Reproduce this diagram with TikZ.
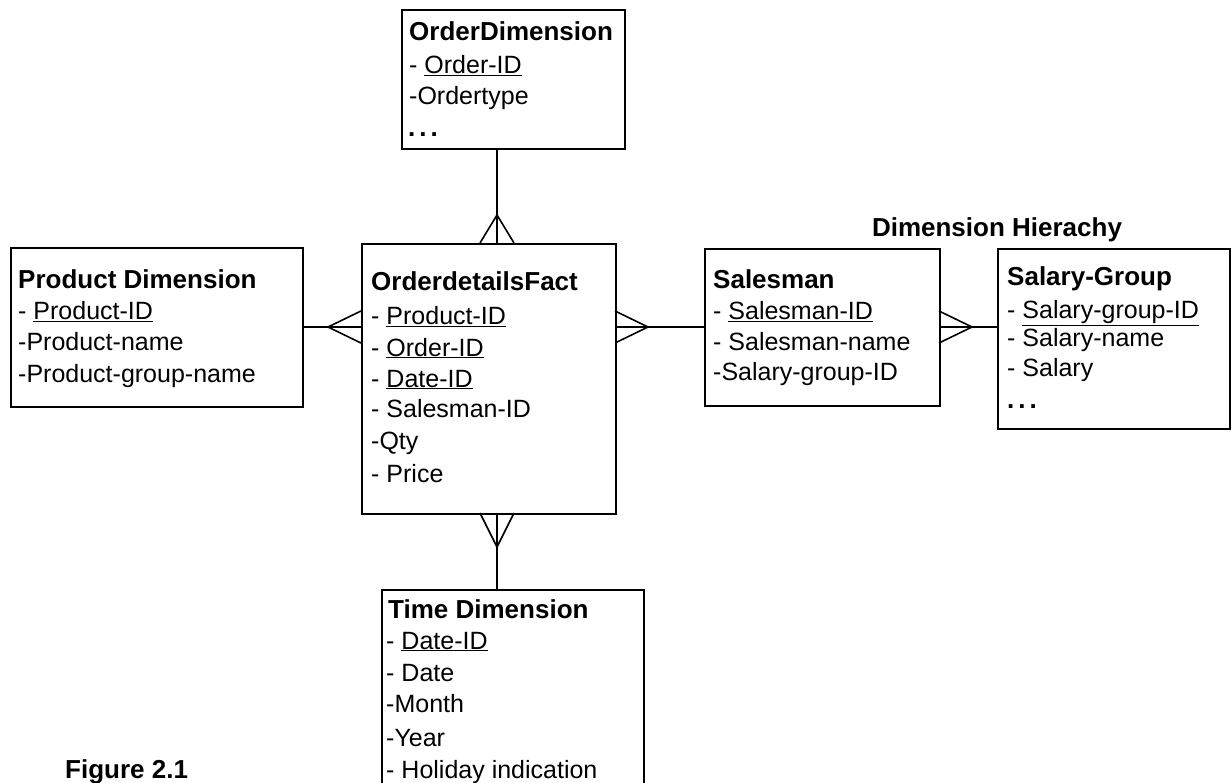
\documentclass[tikz,border=0pt]{standalone}
\usepackage{fontspec}
\setmainfont{Liberation Sans}
\begin{document}
\begin{tikzpicture}[x=1pt,y=-1pt,
  box/.style={draw, line width=1.6pt, inner sep=0pt, anchor=north west},
  conn/.style={line width=1.6pt},
  txt/.style={anchor=base west, inner sep=0pt, font=\fontsize{25}{30}\selectfont},
  ttl/.style={anchor=base west, inner sep=0pt, font=\fontsize{26}{30}\selectfont\bfseries},
  dots/.style={anchor=base west, inner sep=0pt, font=\fontsize{26}{30}\selectfont\bfseries}]
\clip (0,0) rectangle (1231,783);
\fill[white] (0,0) rectangle (1231,783);
% boxes
\node[box, minimum width=223pt, minimum height=139pt] (od) at (401,9) {};
\node[box, minimum width=292pt, minimum height=159pt] (prod) at (10,247) {};
\node[box, minimum width=254pt, minimum height=270pt] (fact) at (361,243) {};
\node[box, minimum width=235pt, minimum height=157pt] (sm) at (704,248) {};
\node[box, minimum width=232pt, minimum height=180pt] (sg) at (997,248) {};
\node[box, minimum width=262pt, minimum height=230pt] (time) at (381,589) {};
% OrderDimension text
\node[ttl] (odT) at (409,41) {OrderDimension};
\node[txt] (od1) at (409,74) {- \underline{Order-ID}};
\node[txt] (od2) at (409,105) {-Ordertype};
\node[dots] (od3) at (408,137) {.\kern4pt.\kern4pt.};
% Product text
\node[ttl] (prodT) at (18,289) {Product Dimension};
\node[txt] (prod1) at (18,320) {- \underline{Product-ID}};
\node[txt] (prod2) at (18,351) {-Product-name};
\node[txt] (prod3) at (18,382) {-Product-group-name};
% Fact text
\node[ttl] (factT) at (371,291) {OrderdetailsFact};
\node[txt] (fact1) at (371,325) {- \underline{Product-ID}};
\node[txt] (fact2) at (371,356) {- \underline{Order-ID}};
\node[txt] (fact3) at (371,387) {- \underline{Date-ID}};
\node[txt] (fact4) at (371,417) {- Salesman-ID};
\node[txt] (fact5) at (371,449) {-Qty};
\node[txt] (fact6) at (371,482) {- Price};
% Salesman text
\node[ttl] (smT) at (713,289) {Salesman};
\node[txt] (sm1) at (713,320) {- \underline{Salesman-ID}};
\node[txt] (sm2) at (713,351) {- Salesman-name};
\node[txt] (sm3) at (713,381) {-Salary-group-ID};
% Salary-Group text
\node[ttl] (sgT) at (1007,286) {Salary-Group};
\node[txt] (sg1) at (1007,319) {- \underline{Salary-group-ID}};
\node[txt] (sg2) at (1007,347) {- Salary-name};
\node[txt] (sg3) at (1007,376) {- Salary};
\node[dots] (sg4) at (1007,408) {.\kern4pt.\kern4pt.};
% Time text
\node[ttl] (timeT) at (388,618) {Time Dimension};
\node[txt] (time1) at (386,649) {- \underline{Date-ID}};
\node[txt] (time2) at (386,681) {- Date};
\node[txt] (time3) at (386,712) {-Month};
\node[txt] (time4) at (386,746) {-Year};
\node[txt] (time5) at (386,778) {- Holiday indication};
% labels
\node[ttl, anchor=base] (dh) at (997,237) {Dimension Hierachy};
\node[ttl] (fig) at (65,778) {Figure 2.1};
% connectors with crow's feet
\coordinate (jT) at (497,243); \coordinate (aT) at (497,215);
\draw[conn] (od.south -| jT) -- (jT);
\draw[conn] ([xshift=-17pt]jT) -- (aT) -- ([xshift=17pt]jT);
\coordinate (jB) at (497,513); \coordinate (aB) at (497,547);
\draw[conn] (jB) -- (jB |- time.north);
\draw[conn] ([xshift=-17pt]jB) -- (aB) -- ([xshift=17pt]jB);
\coordinate (jL) at (361,327); \coordinate (aL) at (328,327);
\draw[conn] (prod.east |- jL) -- (jL);
\draw[conn] ([yshift=16pt]jL) -- (aL) -- ([yshift=-16pt]jL);
\coordinate (jR) at (615,327); \coordinate (aR) at (648,327);
\draw[conn] (jR) -- (sm.west |- jR);
\draw[conn] ([yshift=16pt]jR) -- (aR) -- ([yshift=-16pt]jR);
\coordinate (jS) at (939,327); \coordinate (aS) at (972,327);
\draw[conn] (jS) -- (sg.west |- jS);
\draw[conn] ([yshift=16pt]jS) -- (aS) -- ([yshift=-16pt]jS);
\end{tikzpicture}
\end{document}
